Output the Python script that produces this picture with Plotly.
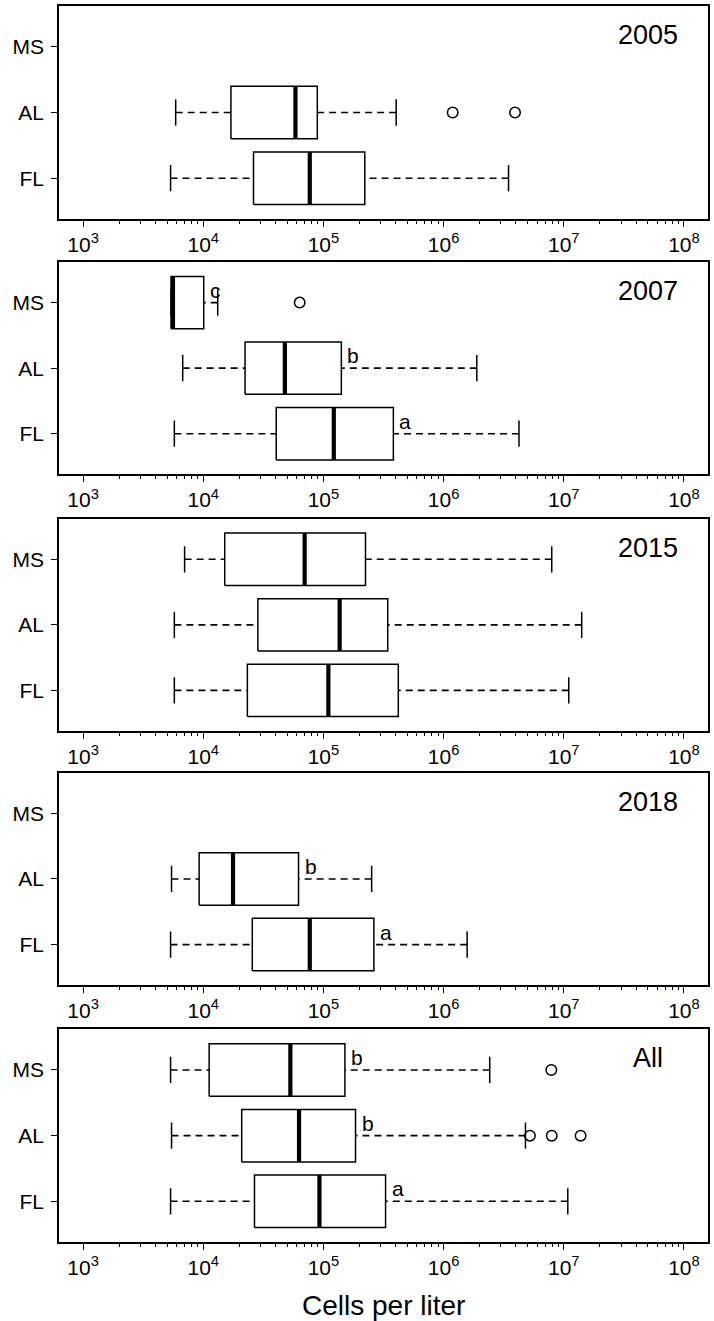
import math
import plotly.graph_objects as go

# ---------------- data ----------------
groups = ["FL", "AL", "MS"]                     # y positions 1, 2, 3
panel_labels = ["2005", "2007", "2015", "2018", "All"]

whisker_low = [
    [5.35e3, 5.9e3, None],
    [5.75e3, 6.75e3, 5.4e3],
    [5.75e3, 5.75e3, 7.0e3],
    [5.35e3, 5.45e3, None],
    [5.35e3, 5.45e3, 5.35e3],
]
quart1 = [
    [2.62e4, 1.70e4, None],
    [4.05e4, 2.23e4, 5.4e3],
    [2.33e4, 2.85e4, 1.51e4],
    [2.56e4, 9.25e3, None],
    [2.67e4, 2.09e4, 1.12e4],
]
medians = [
    [7.7e4, 5.85e4, None],
    [1.22e5, 4.78e4, 5.6e3],
    [1.10e5, 1.365e5, 6.98e4],
    [7.7e4, 1.77e4, None],
    [9.27e4, 6.27e4, 5.31e4],
]
quart3 = [
    [2.21e5, 8.9e4, None],
    [3.82e5, 1.41e5, 1.01e4],
    [4.20e5, 3.43e5, 2.24e5],
    [2.63e5, 6.21e4, None],
    [3.29e5, 1.85e5, 1.51e5],
]
whisker_high = [
    [3.47e6, 4.03e5, None],
    [4.24e6, 1.89e6, 1.32e4],
    [1.10e7, 1.41e7, 7.94e6],
    [1.57e6, 2.52e5, None],
    [1.08e7, 4.80e6, 2.42e6],
]
outliers = [
    [[], [1.19e6, 3.93e6], []],
    [[], [], [6.35e4]],
    [[], [], []],
    [[], [], []],
    [[], [5.23e6, 7.94e6, 1.38e7], [7.87e6]],
]
letters = [
    ["", "", ""],
    ["a", "b", "c"],
    ["", "", ""],
    ["a", "b", ""],
    ["a", "b", "b"],
]
major_ticks = [1e3, 1e4, 1e5, 1e6, 1e7, 1e8]
major_text = ["10<sup>3</sup>", "10<sup>4</sup>", "10<sup>5</sup>",
              "10<sup>6</sup>", "10<sup>7</sup>", "10<sup>8</sup>"]
minor_ticks = [k * 10 ** n for n in range(3, 8) for k in range(2, 10)]
x_title = "Cells per liter"

# ---------------- styling ----------------
FONT = "Liberation Sans, Arial, sans-serif"
BLACK = "#000000"
HALF_BOX = 0.4
HALF_STAPLE = 0.2
domains = [
    [0.8277, 1.0],
    [0.6211, 0.7929],
    [0.4134, 0.5852],
    [0.2077, 0.3797],
    [0.0, 0.1721],
]

fig = go.Figure()
annotations = []

for i, label in enumerate(panel_labels):
    xa = "x" if i == 0 else f"x{i+1}"
    ya = "y" if i == 0 else f"y{i+1}"
    for g in range(len(groups)):
        if quart1[i][g] is None:
            continue
        p = g + 1
        lo, q1, md, q3, hi = (whisker_low[i][g], quart1[i][g], medians[i][g],
                              quart3[i][g], whisker_high[i][g])
        # whiskers (dashed), drawn from whisker end toward the box
        fig.add_trace(go.Scatter(
            x=[lo, q1, None, hi, q3], y=[p, p, None, p, p],
            mode="lines", line=dict(color=BLACK, width=1.6, dash="7px,5px"),
            xaxis=xa, yaxis=ya, hoverinfo="skip"))
        # staples
        fig.add_trace(go.Scatter(
            x=[lo, lo, None, hi, hi],
            y=[p - HALF_STAPLE, p + HALF_STAPLE, None, p - HALF_STAPLE, p + HALF_STAPLE],
            mode="lines", line=dict(color=BLACK, width=1.5),
            xaxis=xa, yaxis=ya, hoverinfo="skip"))
        # box
        fig.add_trace(go.Scatter(
            x=[q1, q3, q3, q1, q1],
            y=[p - HALF_BOX, p - HALF_BOX, p + HALF_BOX, p + HALF_BOX, p - HALF_BOX],
            mode="lines", fill="toself", fillcolor="white",
            line=dict(color=BLACK, width=1.5),
            xaxis=xa, yaxis=ya, hoverinfo="skip"))
        # median
        fig.add_trace(go.Scatter(
            x=[md, md], y=[p - HALF_BOX, p + HALF_BOX],
            mode="lines", line=dict(color=BLACK, width=4.2),
            xaxis=xa, yaxis=ya, hoverinfo="skip"))
        # outliers
        if outliers[i][g]:
            fig.add_trace(go.Scatter(
                x=outliers[i][g], y=[p] * len(outliers[i][g]),
                mode="markers",
                marker=dict(symbol="circle-open", size=10.5, color=BLACK,
                            line=dict(width=1.5, color=BLACK)),
                xaxis=xa, yaxis=ya, hoverinfo="skip"))
        # significance letters
        if letters[i][g]:
            annotations.append(dict(
                x=math.log10(q3), y=p, xref=xa, yref=ya,
                text=letters[i][g], showarrow=False,
                xanchor="left", yanchor="bottom", xshift=4, yshift=-1,
                font=dict(family=FONT, size=21, color=BLACK)))
    # panel label
    annotations.append(dict(
        x=7.70, y=3.18, xref=xa, yref=ya, text=label, showarrow=False,
        xanchor="center", yanchor="middle",
        font=dict(family=FONT, size=27, color=BLACK)))

    axis_common = dict(showline=True, linecolor=BLACK, linewidth=1.6,
                       mirror=True, ticks="outside", tickcolor=BLACK,
                       showgrid=False, zeroline=False, automargin=False)
    fig.layout[("xaxis" if i == 0 else f"xaxis{i+1}")] = dict(
        type="log", range=[2.8, 8.2], anchor=ya, domain=[0, 1],
        tickmode="array", tickvals=major_ticks, ticktext=major_text,
        ticklen=6, tickwidth=1.3,
        tickfont=dict(family=FONT, size=21, color=BLACK),
        minor=dict(tickmode="array", tickvals=minor_ticks, ticks="outside",
                   ticklen=3, tickwidth=1.2, tickcolor=BLACK, showgrid=False),
        **axis_common)
    fig.layout[("yaxis" if i == 0 else f"yaxis{i+1}")] = dict(
        range=[0.38, 3.62], anchor=xa, domain=domains[i],
        tickmode="array", tickvals=[1, 2, 3], ticktext=groups,
        ticklen=6, tickwidth=1.3, ticklabelstandoff=3,
        tickfont=dict(family=FONT, size=21, color=BLACK),
        **axis_common)

annotations.append(dict(
    x=0.5, y=-0.051, xref="paper", yref="paper", text=x_title,
    showarrow=False, xanchor="center", yanchor="middle",
    font=dict(family=FONT, size=28, color=BLACK)))

fig.update_layout(
    width=714, height=1321,
    margin=dict(l=59, r=6, t=6, b=79, autoexpand=False),
    paper_bgcolor="white", plot_bgcolor="white",
    showlegend=False, annotations=annotations,
    font=dict(family=FONT, color=BLACK),
)

fig.write_html("out.html",
               config={"displayModeBar": False},
               post_script="document.body.style.margin='0';")
